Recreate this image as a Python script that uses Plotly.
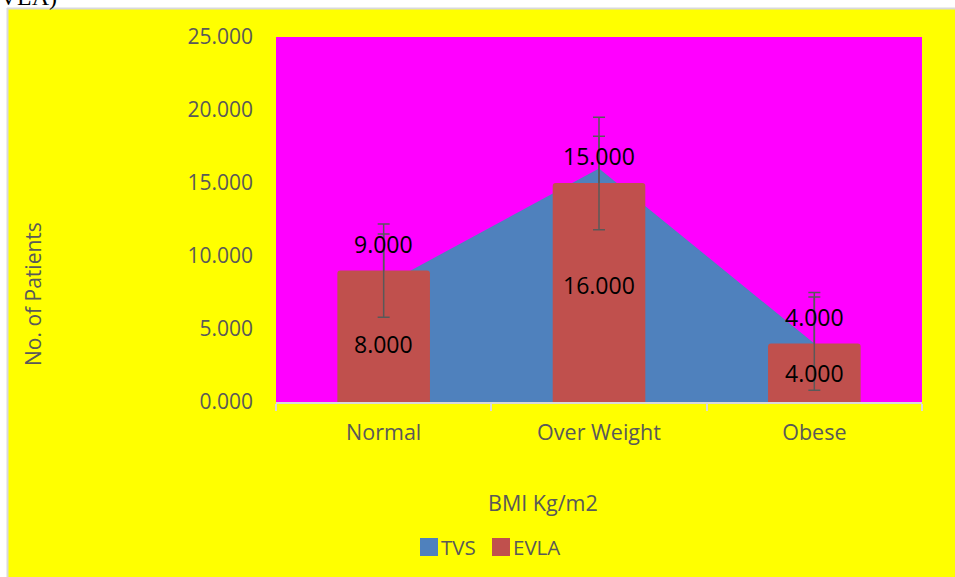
import plotly.graph_objects as go

categories = ["Normal", "Over Weight", "Obese"]
tvs_values = [8, 16, 4]
evla_values = [9, 15, 4]
tvs_err = [3.5, 3.5, 3.5]
evla_err = [3.2, 3.2, 3.2]
y_ticks = [0, 5, 10, 15, 20, 25]
y_tick_labels = ["0.000", "5.000", "10.000", "15.000", "20.000", "25.000"]

W, H = 955, 577
L, R, T, B = 276, 922, 37, 402


def px(x):
    return (x - L) / (R - L)


def py(y):
    return (B - y) / (B - T)


FONT = "Open Sans"
GREY = "#595959"
BLUE = "#4F81BD"
RED = "#C0504D"

fig = go.Figure()

# TVS area (lower subplot)
fig.add_trace(go.Scatter(
    x=categories, y=tvs_values, mode="lines", fill="tozeroy",
    fillcolor=BLUE, line=dict(width=0, color=BLUE), name="TVS",
    error_y=dict(type="data", array=tvs_err, color=GREY, thickness=1.5, width=6),
    xaxis="x", yaxis="y", showlegend=False, hoverinfo="skip",
))

# EVLA bars (overlay subplot, drawn on top)
fig.add_trace(go.Bar(
    x=categories, y=evla_values, width=0.43,
    marker=dict(color=RED, line=dict(width=0), cornerradius=3),
    name="EVLA",
    error_y=dict(type="data", array=evla_err, color=GREY, thickness=1.5, width=6),
    xaxis="x", yaxis="y2", showlegend=False, hoverinfo="skip",
))

annotations = []
for c, v in zip(categories, tvs_values):
    annotations.append(dict(x=c, y=v / 2, xref="x", yref="y", text=f"{v:.3f}",
                            showarrow=False, font=dict(family=FONT, size=23, color="black")))
for c, v in zip(categories, evla_values):
    annotations.append(dict(x=c, y=v, xref="x", yref="y", text=f"{v:.3f}", yshift=27,
                            showarrow=False, font=dict(family=FONT, size=23, color="black")))

# Axis titles
annotations.append(dict(x=px(33), y=py(294), xref="paper", yref="paper", text="No. of Patients",
                        textangle=-90, showarrow=False, xanchor="center", yanchor="middle",
                        font=dict(family=FONT, size=21, color=GREY)))
annotations.append(dict(x=px(543), y=py(503), xref="paper", yref="paper", text="BMI Kg/m2",
                        showarrow=False, xanchor="center", yanchor="middle",
                        font=dict(family=FONT, size=21.5, color=GREY)))

# Legend
legend_items = [("TVS", BLUE, 420), ("EVLA", RED, 492)]
shapes = []
for name, col, x0 in legend_items:
    shapes.append(dict(type="rect", xref="paper", yref="paper",
                       x0=px(x0), x1=px(x0 + 18), y0=py(556), y1=py(538),
                       fillcolor=col, line=dict(width=0), layer="above"))
    annotations.append(dict(x=px(x0 + 19), y=py(547), xref="paper", yref="paper", text=name,
                            xanchor="left", yanchor="middle", showarrow=False,
                            font=dict(family=FONT, size=20.5, color=GREY)))

# White strips around page edge + grey border
shapes.append(dict(type="rect", xref="paper", yref="paper", x0=px(-5), x1=px(W + 5),
                   y0=py(8), y1=py(-5), fillcolor="white", line=dict(width=0), layer="above"))
shapes.append(dict(type="rect", xref="paper", yref="paper", x0=px(-5), x1=px(7),
                   y0=py(H + 5), y1=py(-5), fillcolor="white", line=dict(width=0), layer="above"))
shapes.append(dict(type="line", xref="paper", yref="paper", x0=px(7), x1=px(W + 5),
                   y0=py(8.5), y1=py(8.5), line=dict(color="#D9D9D9", width=2), layer="above"))
shapes.append(dict(type="line", xref="paper", yref="paper", x0=px(7.5), x1=px(7.5),
                   y0=py(8), y1=py(H + 5), line=dict(color="#D9D9D9", width=2), layer="above"))

annotations.append(dict(x=px(59), y=py(12), xref="paper", yref="paper", text="(EVLA)",
                        xanchor="right", yanchor="bottom", showarrow=False,
                        font=dict(family="Liberation Serif", size=24, color="black")))

yaxis_common = dict(range=[0, 25], tickvals=y_ticks, ticktext=y_tick_labels,
                    showgrid=False, zeroline=False, showline=False, ticks="")

fig.update_layout(
    width=W, height=H,
    margin=dict(l=L, r=W - R, t=T, b=H - B),
    paper_bgcolor="yellow",
    plot_bgcolor="#FF00FF",
    showlegend=False,
    xaxis=dict(type="category", categoryorder="array", categoryarray=categories,
               showline=True, linecolor="#D9D9D9", linewidth=2,
               ticks="outside", tickson="boundaries", ticklen=7, tickcolor="#D9D9D9", tickwidth=2,
               showgrid=False, zeroline=False, range=[-0.5, 2.5],
               tickfont=dict(family=FONT, size=21.5, color=GREY), ticklabelstandoff=10),
    yaxis=dict(**yaxis_common, tickfont=dict(family=FONT, size=21, color=GREY),
               ticklabelstandoff=22),
    yaxis2=dict(**yaxis_common, overlaying="y", showticklabels=False),
    annotations=annotations,
    shapes=shapes,
)

fig.write_html("out.html")
